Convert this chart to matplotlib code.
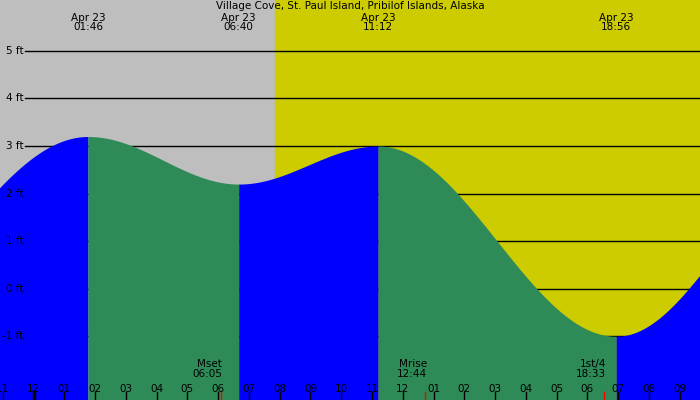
import numpy as np
import matplotlib.pyplot as plt

# tide extremes (hours from midnight Apr 23, feet)
ext_hours = [-6.5, 1.767, 6.667, 11.2, 18.933, 25.5]
ext_heights = [-0.8, 3.2, 2.2, 3.0, -1.0, 2.5]
ext_labels = ["01:46", "06:40", "11:12", "18:56"]
ext_label_hours = [1.767, 6.667, 11.2, 18.933]

sunrise = 7.85
moon_events = [("Mset", "06:05", 6.083), ("Mrise", "12:44", 12.733), ("1st/4", "18:33", 18.55)]
ft_levels = [5, 4, 3, 2, 1, 0, -1]
x0, x1 = -1.09, 21.66
y0, y1 = -2.34, 6.07

fig = plt.figure(figsize=(7, 4), dpi=100)
ax = fig.add_axes([0, 0, 1, 1])
ax.set_xlim(x0, x1)
ax.set_ylim(y0, y1)
ax.axis("off")

ax.axvspan(x0, sunrise, color="#bebebe", zorder=0)
ax.axvspan(sunrise, x1, color="#cccc00", zorder=0)

for lv in ft_levels:
    ax.plot([-0.28, x1], [lv, lv], color="black", lw=1, zorder=1)
    ax.text(-0.32, lv, f"{lv} ft", ha="right", va="center", fontsize=7.5, zorder=5)

# cosine interpolation between extremes
for i in range(len(ext_hours) - 1):
    ta, tb = ext_hours[i], ext_hours[i + 1]
    ha, hb = ext_heights[i], ext_heights[i + 1]
    t = np.linspace(ta, tb, 200)
    h = ha + (hb - ha) * (1 - np.cos(np.pi * (t - ta) / (tb - ta))) / 2
    col = "#0000ff" if hb > ha else "#2e8b57"
    ax.fill_between(t, y0, h, color=col, lw=0, zorder=2)

ax.text((x0 + x1) / 2, y1 - 0.02, "Village Cove, St. Paul Island, Pribilof Islands, Alaska",
        ha="center", va="top", fontsize=7.5)
for hr, lab in zip(ext_label_hours, ext_labels):
    ax.text(hr, y1 - 0.27, "Apr 23\n" + lab, ha="center", va="top", fontsize=7.5,
            linespacing=0.95)

for name, tm, hr in moon_events:
    ax.text(hr + 0.05, -1.9, name + "\n" + tm, ha="right", va="bottom", fontsize=7.5,
            linespacing=0.95, zorder=5)
    ax.plot([hr, hr], [y0, y0 + 0.17], color="red", lw=1, zorder=5)

for hr in range(-1, 22):
    lab = f"{hr % 12:02d}" if hr % 12 else "12"
    ax.text(hr, -2.1, lab, ha="center", va="center", fontsize=7.5, zorder=5)
    lw = 2.5 if hr == 0 else 1
    ax.plot([hr, hr], [y0, y0 + 0.17], color="black", lw=lw, zorder=5)

fig.savefig("out.png", dpi=100)
